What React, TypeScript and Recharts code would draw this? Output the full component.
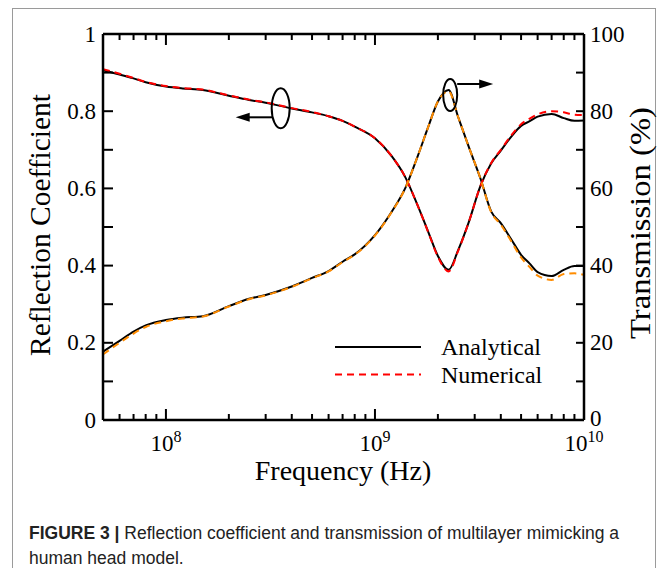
import React from "react";
import { LineChart, Line, XAxis, YAxis, ReferenceDot, Legend } from "recharts";

// frequency samples (Hz)
const freqs = [
  5e7, 6e7, 7e7, 8e7, 1e8, 1.2e8, 1.5e8, 2e8, 2.5e8, 3e8, 4e8, 5e8, 6e8, 7e8, 8e8,
  1e9, 1.2e9, 1.4e9, 1.6e9, 1.8e9, 2e9, 2.25e9, 2.5e9, 2.8e9, 3.2e9, 3.6e9, 4e9,
  4.5e9, 5e9, 5.5e9, 6e9, 7e9, 8e9, 9e9, 1e10,
];

const reflAnalytical = [
  0.906, 0.895, 0.885, 0.875, 0.864, 0.859, 0.855, 0.84, 0.829, 0.822, 0.807, 0.797, 0.787, 0.775, 0.76,
  0.73, 0.684, 0.628, 0.556, 0.487, 0.425, 0.389, 0.44, 0.51, 0.607, 0.665, 0.698,
  0.735, 0.762, 0.774, 0.786, 0.793, 0.782, 0.775, 0.776,
];

const reflNumerical = [
  0.909, 0.897, 0.886, 0.876, 0.865, 0.86, 0.856, 0.841, 0.83, 0.823, 0.808, 0.798, 0.787, 0.775, 0.76,
  0.73, 0.684, 0.628, 0.556, 0.486, 0.423, 0.385, 0.438, 0.51, 0.607, 0.666, 0.7,
  0.738, 0.766, 0.781, 0.792, 0.8, 0.797, 0.791, 0.79,
];

// transmission in %
const transAnalytical = [
  17.7, 20.5, 22.9, 24.5, 25.9, 26.5, 26.9, 29.5, 31.4, 32.4, 34.6, 36.8, 38.6, 41.0, 42.9,
  47.9, 53.9, 60.2, 68.3, 76.0, 82.5, 85.5, 78.5, 71.0, 62.5, 54.0, 51.0,
  46.7, 42.8, 40.5, 38.3, 37.3, 38.9, 39.9, 39.9,
];

const transNumerical = [
  17.0, 20.0, 22.4, 24.1, 25.6, 26.3, 26.8, 29.4, 31.3, 32.3, 34.5, 36.7, 38.5, 40.9, 42.8,
  47.8, 53.8, 60.2, 68.3, 76.0, 82.5, 85.2, 78.5, 71.0, 62.5, 53.8, 50.6,
  46.2, 42.1, 39.6, 37.4, 36.3, 37.8, 38.0, 37.6,
];

const xTicks = [
  6e7, 7e7, 8e7, 9e7, 1e8, 2e8, 3e8, 4e8, 5e8, 6e8, 7e8, 8e8, 9e8,
  1e9, 2e9, 3e9, 4e9, 5e9, 6e9, 7e9, 8e9, 9e9, 1e10,
];
const majorX = [1e8, 1e9, 1e10];
const reflTicks = [0, 0.1, 0.2, 0.3, 0.4, 0.5, 0.6, 0.7, 0.8, 0.9, 1];
const transTicks = [0, 10, 20, 30, 40, 50, 60, 70, 80, 90, 100];
const legendKeys = ["rA", "rN"];

const data = freqs.map((f, i) => ({
  f,
  rA: reflAnalytical[i],
  rN: reflNumerical[i],
  tA: transAnalytical[i],
  tN: transNumerical[i],
}));

const serif = '"Liberation Serif", "Times New Roman", serif';
const tickFont = 23;

const BottomTick = (props: any) => {
  const { x, y, payload } = props;
  const major = majorX.includes(payload.value);
  const exp = Math.round(Math.log10(payload.value));
  return (
    <g>
      <line x1={x} x2={x} y1={y} y2={y - (major ? 11 : 6)} stroke="#000" strokeWidth={2} />
      {major && (
        <text x={x} y={y + 31} textAnchor="middle" fontFamily={serif} fontSize={tickFont} fill="#000">
          <tspan>10</tspan>
          <tspan dy={-9} fontSize={16}>{exp}</tspan>
        </text>
      )}
    </g>
  );
};

const TopTick = (props: any) => {
  const { x, y, payload } = props;
  const major = majorX.includes(payload.value);
  return <line x1={x} x2={x} y1={y} y2={y + (major ? 11 : 6)} stroke="#000" strokeWidth={2} />;
};

const LeftTick = (props: any) => {
  const { x, y, payload } = props;
  const v = payload.value;
  const labeled = Math.round(v * 10) % 2 === 0;
  const txt = v === 0 ? "0" : v === 1 ? "1" : v.toFixed(1);
  return (
    <g>
      <line x1={x} x2={x + 10} y1={y} y2={y} stroke="#000" strokeWidth={2} />
      {labeled && (
        <text x={x - 7} y={y} textAnchor="end" dominantBaseline="central" fontFamily={serif} fontSize={tickFont} fill="#000">
          {txt}
        </text>
      )}
    </g>
  );
};

const RightTick = (props: any) => {
  const { x, y, payload } = props;
  const v = payload.value;
  return (
    <g>
      <line x1={x} x2={x - 8} y1={y} y2={y} stroke="#000" strokeWidth={2} />
      {v % 20 === 0 && (
        <text x={x + 6} y={y - (v === 0 ? 2 : 0)} textAnchor="start" dominantBaseline="central" fontFamily={serif} fontSize={tickFont} fill="#000">
          {v}
        </text>
      )}
    </g>
  );
};

// ellipse around the reflection curve, arrow pointing to the left axis
const LeftMarker = (props: any) => {
  const { cx, cy } = props;
  return (
    <g>
      <ellipse cx={cx} cy={cy} rx={9} ry={20} fill="none" stroke="#000" strokeWidth={2} />
      <line x1={cx - 8} x2={cx - 32} y1={cy + 9} y2={cy + 9} stroke="#000" strokeWidth={2} />
      <polygon points={`${cx - 45},${cy + 9} ${cx - 31},${cy + 4.5} ${cx - 31},${cy + 13.5}`} fill="#000" />
    </g>
  );
};

// ellipse around the transmission peak, arrow pointing to the right axis
const RightMarker = (props: any) => {
  const { cx, cy } = props;
  return (
    <g>
      <ellipse cx={cx} cy={cy} rx={7} ry={16} fill="none" stroke="#000" strokeWidth={2} />
      <line x1={cx + 7} x2={cx + 30} y1={cy - 11} y2={cy - 11} stroke="#000" strokeWidth={2} />
      <polygon points={`${cx + 43},${cy - 11} ${cx + 29},${cy - 15.5} ${cx + 29},${cy - 6.5}`} fill="#000" />
    </g>
  );
};

const renderLegend = (props: any) => {
  const items = (props.payload || []).filter((e: any) => legendKeys.includes(e.dataKey));
  return (
    <svg width={220} height={72} style={{ overflow: "visible" }}>
      {items.map((e: any, i: number) => (
        <g key={i}>
          <line
            x1={5}
            x2={91}
            y1={16 + i * 27.5}
            y2={16 + i * 27.5}
            stroke={e.color}
            strokeWidth={2}
            strokeDasharray={e.dataKey === "rN" ? "7 5" : undefined}
          />
          <text x={111} y={16 + i * 27.5} dominantBaseline="central" fontFamily={serif} fontSize={24} fill="#000">
            {e.value}
          </text>
        </g>
      ))}
    </svg>
  );
};

export default function App() {
  return (
    <div style={{ position: "absolute", left: 0, top: 0, width: 667, height: 568, background: "#fff", overflow: "hidden" }}>
      <div
        style={{
          position: "absolute",
          left: 12,
          top: 8,
          width: 644,
          height: 620,
          border: "1px solid #9a9a9a",
          boxSizing: "border-box",
        }}
      />
      <div style={{ position: "absolute", left: 0, top: 0 }}>
        <LineChart width={667} height={568} data={data} margin={{ top: 33, right: 82, bottom: 147, left: 102 }}>
          <XAxis
            xAxisId="b"
            dataKey="f"
            type="number"
            scale="log"
            domain={[5e7, 1e10]}
            ticks={xTicks}
            interval={0}
            height={1}
            tickSize={0}
            tickMargin={0}
            tick={<BottomTick />}
            axisLine={{ stroke: "#000", strokeWidth: 2.5 }}
            tickLine={false}
          />
          <XAxis
            xAxisId="t"
            orientation="top"
            dataKey="f"
            type="number"
            scale="log"
            domain={[5e7, 1e10]}
            ticks={xTicks}
            interval={0}
            height={1}
            tickSize={0}
            tickMargin={0}
            tick={<TopTick />}
            axisLine={{ stroke: "#000", strokeWidth: 2.5 }}
            tickLine={false}
          />
          <YAxis
            yAxisId="l"
            type="number"
            domain={[0, 1]}
            ticks={reflTicks}
            interval={0}
            width={1}
            tickSize={0}
            tickMargin={0}
            tick={<LeftTick />}
            axisLine={{ stroke: "#000", strokeWidth: 2.5 }}
            tickLine={false}
          />
          <YAxis
            yAxisId="r"
            orientation="right"
            type="number"
            domain={[0, 100]}
            ticks={transTicks}
            interval={0}
            width={1}
            tickSize={0}
            tickMargin={0}
            tick={<RightTick />}
            axisLine={{ stroke: "#000", strokeWidth: 2.5 }}
            tickLine={false}
          />
          <Line xAxisId="b" yAxisId="l" type="monotone" dataKey="rA" name="Analytical" stroke="#000" strokeWidth={2} dot={false} isAnimationActive={false} />
          <Line xAxisId="b" yAxisId="r" type="monotone" dataKey="tA" stroke="#000" strokeWidth={2} dot={false} legendType="none" isAnimationActive={false} />
          <Line xAxisId="b" yAxisId="l" type="monotone" dataKey="rN" name="Numerical" stroke="#ff0000" strokeWidth={2} strokeDasharray="7 5" dot={false} isAnimationActive={false} />
          <Line xAxisId="b" yAxisId="r" type="monotone" dataKey="tN" stroke="#ff8c00" strokeWidth={2} strokeDasharray="7 5" dot={false} legendType="none" isAnimationActive={false} />
          <ReferenceDot xAxisId="b" yAxisId="l" x={3.54e8} y={0.8075} r={0} shape={<LeftMarker />} />
          <ReferenceDot xAxisId="b" yAxisId="r" x={2.29e9} y={84.2} r={0} shape={<RightMarker />} />
          <Legend
            layout="horizontal"
            verticalAlign="middle"
            align="center"
            content={renderLegend}
            wrapperStyle={{ position: "absolute", left: 330, top: 331, width: 220, height: 72 }}
          />
        </LineChart>
      </div>
      <svg width={667} height={568} style={{ position: "absolute", left: 0, top: 0, pointerEvents: "none" }}>
        <text
          transform="translate(40,225) rotate(-90)"
          textAnchor="middle"
          dominantBaseline="central"
          fontFamily={serif}
          fontSize={29}
          textLength={262}
          lengthAdjust="spacingAndGlyphs"
          fill="#000"
        >
          Reflection Coefficient
        </text>
        <text
          transform="translate(640,223) rotate(-90)"
          textAnchor="middle"
          dominantBaseline="central"
          fontFamily={serif}
          fontSize={29}
          textLength={232}
          lengthAdjust="spacingAndGlyphs"
          fill="#000"
        >
          Transmission (%)
        </text>
        <text x={343} y={480} textAnchor="middle" fontFamily={serif} fontSize={28} fill="#000">
          Frequency (Hz)
        </text>
      </svg>
      <div
        style={{
          position: "absolute",
          left: 29,
          top: 521,
          width: 634,
          fontFamily: '"Liberation Sans", Arial, sans-serif',
          fontSize: 17.5,
          lineHeight: "25px",
          color: "#222",
          whiteSpace: "nowrap",
        }}
      >
        <b>FIGURE 3 |</b> Reflection coefficient and transmission of multilayer mimicking a
        <br />
        human head model.
      </div>
    </div>
  );
}
